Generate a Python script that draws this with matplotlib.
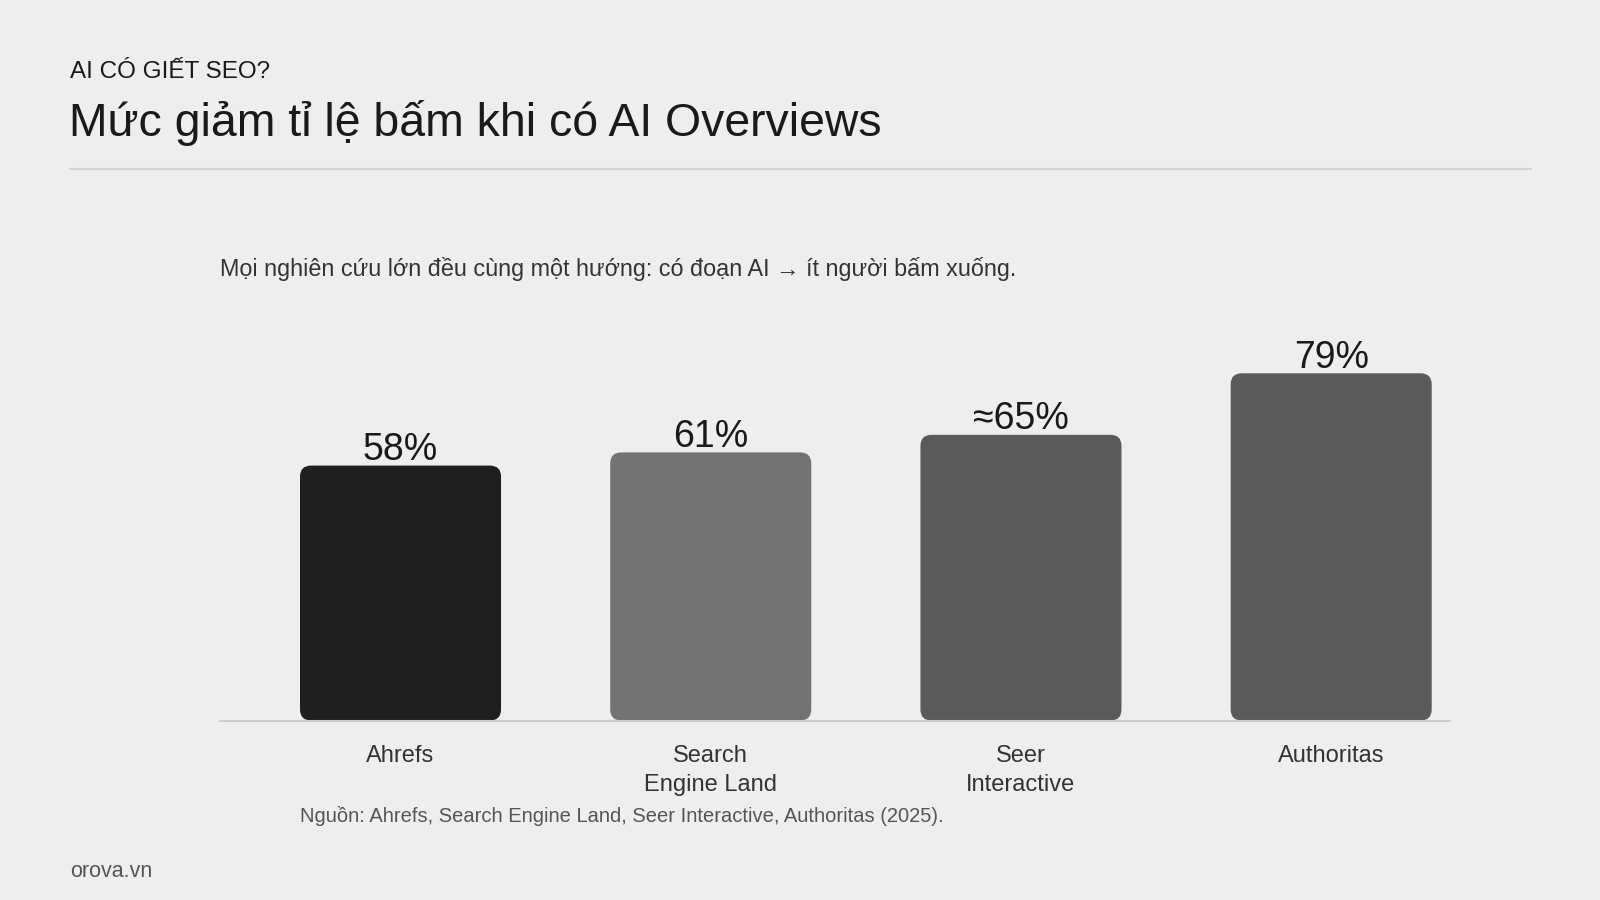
import matplotlib
matplotlib.use("Agg")
import matplotlib.pyplot as plt
from matplotlib.patches import FancyBboxPatch

plt.rcParams['font.family'] = ['Liberation Sans', 'DejaVu Sans']

# ---- data ----
categories = ["Ahrefs", "Search\nEngine Land", "Seer\nInteractive", "Authoritas"]
values = [58, 61, 65, 79]
value_labels = ["58%", "61%", "≈65%", "79%"]
bar_colors = ["#1f1f1f", "#737373", "#5a5a5a", "#5a5a5a"]

kicker = "AI CÓ GIẾT SEO?"
title = "Mức giảm tỉ lệ bấm khi có AI Overviews"
subtitle = "Mọi nghiên cứu lớn đều cùng một hướng: có đoạn AI → ít người bấm xuống."
source = "Nguồn: Ahrefs, Search Engine Land, Seer Interactive, Authoritas (2025)."
brand = "orova.vn"

W, H = 1600, 900
BG = "#eeeeee"
fig = plt.figure(figsize=(16, 9), dpi=100, facecolor=BG)

def fx(x):
    return x / W

def fy(y):
    return 1 - y / H

# axes geometry (pixels)
ax_left, ax_right = 220.4, 1450.0
ax_bottom = 720.5
px_per_unit_y = 4.395
ymax = 90
ax_h = ymax * px_per_unit_y
ax = fig.add_axes([fx(ax_left), fy(ax_bottom), (ax_right - ax_left) / W, ax_h / H])
ax.set_facecolor(BG)
xlim = (-0.5806, 3.383)
ax.set_xlim(*xlim)
ax.set_ylim(0, ymax)
px_per_unit_x = (ax_right - ax_left) / (xlim[1] - xlim[0])

xs = list(range(len(categories)))
bars = ax.bar(xs, values, width=0.648, color=bar_colors)
radius_px = 11
rx = radius_px / px_per_unit_x
aspect = px_per_unit_x / px_per_unit_y
for rect, c in zip(bars, bar_colors):
    x0, y0 = rect.get_x(), rect.get_y()
    w, h = rect.get_width(), rect.get_height()
    rect.set_visible(False)
    p = FancyBboxPatch((x0, y0), w, h,
                       boxstyle=f"round,pad=0,rounding_size={rx}",
                       mutation_aspect=aspect, facecolor=c, edgecolor="none",
                       zorder=2)
    ax.add_patch(p)

for x, v, lab in zip(xs, values, value_labels):
    ax.annotate(lab, (x, v), xytext=(0, 4), textcoords="offset points",
                ha="center", va="baseline", fontsize=27, color="#1a1a1a")

for s in ["top", "right", "left"]:
    ax.spines[s].set_visible(False)
ax.spines["bottom"].set_color("#cccccc")
ax.spines["bottom"].set_linewidth(1.5)
ax.spines["bottom"].set_zorder(3)
ax.set_yticks([])
ax.set_xticks(xs)
ax.set_xticklabels(categories, fontsize=17, color="#333333", linespacing=1.45)
ax.tick_params(axis="x", length=0, pad=17.5)

# header texts
fig.text(fx(70), fy(77.7), kicker, fontsize=17.5, color="#1a1a1a", va="baseline", ha="left")
fig.text(fx(69), fy(135.7), title, fontsize=33.4, color="#1a1a1a", va="baseline", ha="left")
fig.add_artist(plt.Line2D([fx(70), fx(1531)], [fy(168.8), fy(168.8)],
                          color="#d4d4d4", linewidth=1.6, transform=fig.transFigure))
fig.text(fx(220.4), fy(276), subtitle, fontsize=16.85, color="#333333", va="baseline", ha="left")
fig.text(fx(300), fy(822), source, fontsize=14.5, color="#555555", va="baseline", ha="left")
fig.text(fx(70), fy(877), brand, fontsize=15.5, color="#555555", va="baseline", ha="left")

fig.savefig("out.png", dpi=100, facecolor=BG)
